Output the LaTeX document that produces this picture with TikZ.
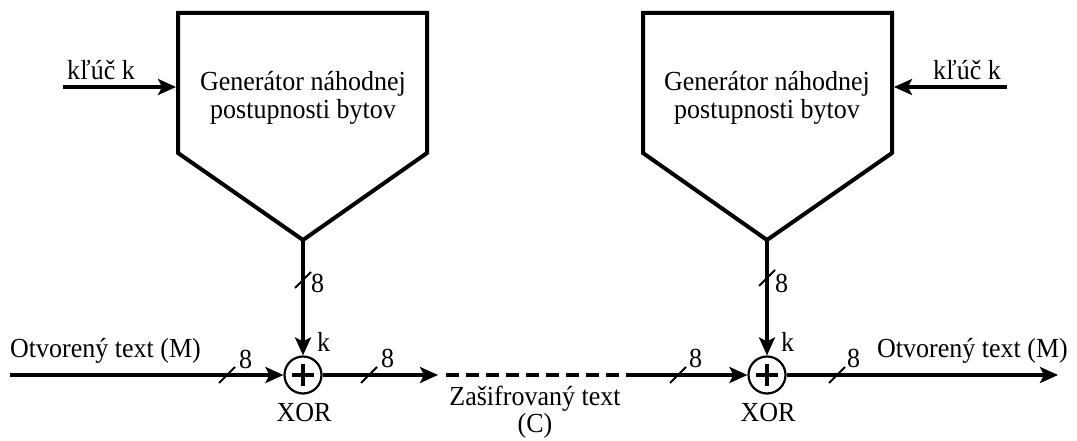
\documentclass[tikz,border=0pt]{standalone}
\usepackage{fontspec}
\usepackage{graphicx}
\setmainfont{Liberation Serif}
\usetikzlibrary{arrows.meta}
% slightly taller lettering
\newcommand\tallText[1]{\scalebox{1}[1.06]{#1}}
\begin{document}
\begin{tikzpicture}[x=1pt,y=-1pt,
  lbl/.style={font=\fontsize{26}{28}\selectfont, inner sep=0pt},
  wire/.style={line width=3.1pt},
  arr/.style={wire,-{Stealth[length=18pt,width=16pt,inset=4pt]}},
  genbox/.style={line width=4pt,line join=miter},
  xorgate/.style={circle,draw,line width=2.2pt,minimum size=37pt,inner sep=0pt},
  plussign/.style={line width=4.5pt},
  buswidth/.style={line width=2pt}
]
\useasboundingbox (0,0) rectangle (1077,441);

% ---------- encryption side ----------
\draw[genbox] (178,13) -- (427,13) -- (427,153) -- (303,240) -- (178,153) -- cycle;
\coordinate (g1) at (303,240);
\coordinate (g1w) at (176,87);
\node[lbl,anchor=base] (g1a) at (303,91) {\tallText{Generátor náhodnej}};
\node[lbl,anchor=base] (g1b) at (303,119) {\tallText{postupnosti bytov}};

\coordinate (k1) at (63,87);
\draw[arr] (k1) -- (g1w);
\node[lbl,anchor=base west] (key1) at (67,80) {\tallText{kľúč k}};

\node[xorgate] (x1) at (303,375) {};
\draw[plussign] ([xshift=-11pt]x1.center) -- ([xshift=11pt]x1.center);
\draw[plussign] ([yshift=-11pt]x1.center) -- ([yshift=11pt]x1.center);
\node[lbl,anchor=base] (xor1) at (304,421) {\tallText{XOR}};

\draw[arr] (g1) -- (x1.north);
\draw[buswidth] (295,288) -- (311,272);
\node[lbl,anchor=base west] (b1) at (311,292) {\tallText{8}};
\node[lbl,anchor=base west] (kk1) at (317,351) {\tallText{k}};

\coordinate (in1) at (10,375);
\draw[arr] (in1) -- (x1.west);
\node[lbl,anchor=base west] (m1) at (10,357) {\tallText{Otvorený text (M)}};
\draw[buswidth] (219,383) -- (235,367);
\node[lbl,anchor=base west] (b2) at (239,368) {\tallText{8}};

\coordinate (c1) at (438,375);
\draw[arr] (x1.east) -- (c1);
\draw[buswidth] (361,383) -- (377,367);
\node[lbl,anchor=base west] (b3) at (381,367) {\tallText{8}};

% ---------- channel ----------
\coordinate (d1) at (446,375);
\coordinate (d2) at (628,375);
\draw[wire,dash pattern=on 13pt off 7pt] (d1) -- (d2);
\node[lbl,anchor=base] (ct1) at (535,405) {\tallText{Zašifrovaný text}};
\node[lbl,anchor=base] (ct2) at (535,432) {\tallText{(C)}};

% ---------- decryption side ----------
\draw[genbox] (643,13) -- (892,13) -- (892,153) -- (767,240) -- (643,153) -- cycle;
\coordinate (g2) at (767,240);
\coordinate (g2e) at (894,87);
\node[lbl,anchor=base] (g2a) at (767,91) {\tallText{Generátor náhodnej}};
\node[lbl,anchor=base] (g2b) at (767,119) {\tallText{postupnosti bytov}};

\coordinate (k2) at (1007,87);
\draw[arr] (k2) -- (g2e);
\node[lbl,anchor=base west] (key2) at (933,80) {\tallText{kľúč k}};

\node[xorgate] (x2) at (767,375) {};
\draw[plussign] ([xshift=-11pt]x2.center) -- ([xshift=11pt]x2.center);
\draw[plussign] ([yshift=-11pt]x2.center) -- ([yshift=11pt]x2.center);
\node[lbl,anchor=base] (xor2) at (768,421) {\tallText{XOR}};

\draw[arr] (d2) -- (x2.west);
\draw[buswidth] (670,383) -- (686,367);
\node[lbl,anchor=base west] (b4) at (689,367) {\tallText{8}};

\draw[arr] (g2) -- (x2.north);
\draw[buswidth] (759,286) -- (775,270);
\node[lbl,anchor=base west] (b5) at (775,292) {\tallText{8}};
\node[lbl,anchor=base west] (kk2) at (781,351) {\tallText{k}};

\coordinate (out2) at (1058,375);
\draw[arr] (x2.east) -- (out2);
\draw[buswidth] (829,383) -- (845,367);
\node[lbl,anchor=base west] (b6) at (847,367) {\tallText{8}};
\node[lbl,anchor=base west] (m2) at (877,357) {\tallText{Otvorený text (M)}};
\end{tikzpicture}
\end{document}
